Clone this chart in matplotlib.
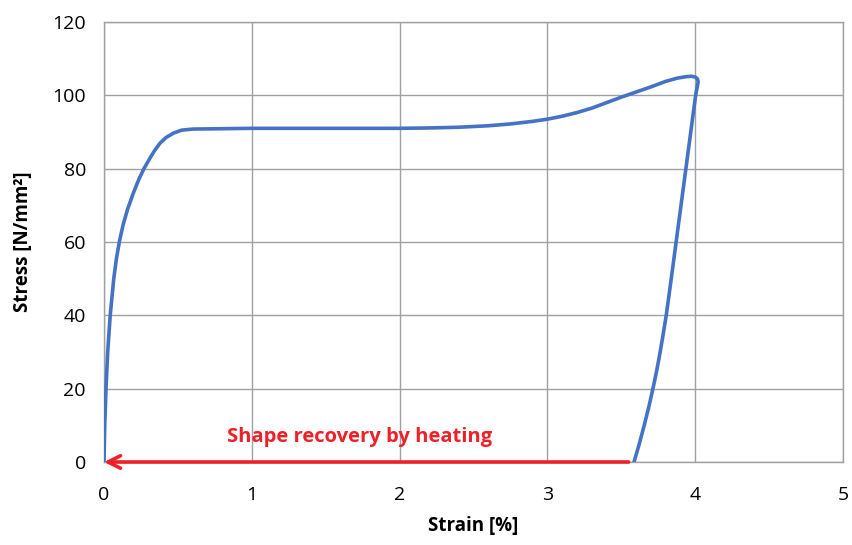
import numpy as np
import matplotlib.pyplot as plt

# Stress-strain loop (loading, unloading)
strain = [0.0, 0.005, 0.0135, 0.025, 0.042, 0.066, 0.084, 0.106, 0.13, 0.16, 0.2, 0.235, 0.27, 0.31, 0.345, 0.38, 0.42,
          0.47, 0.525, 0.6, 0.8, 1.0, 1.5, 2.0, 2.2, 2.4, 2.6, 2.75, 2.9, 3.0,
          3.1, 3.2, 3.3, 3.4, 3.5, 3.6, 3.7, 3.8, 3.88, 3.94, 3.975, 4.0, 4.015,
          4.02, 4.003, 3.97, 3.937, 3.904, 3.871, 3.838, 3.804, 3.784, 3.763, 3.740, 3.714, 3.686, 3.655, 3.622, 3.586]
stress = [0.0, 10.0, 20.0, 30.0, 40.0, 50.0, 55.5, 60.5, 64.8, 69.0, 73.5, 77.0, 80.0, 82.8, 85.1, 87.0, 88.5,
          89.7, 90.5, 90.8, 90.9, 91.0, 91.0, 91.0, 91.1, 91.3, 91.7, 92.2, 92.9, 93.5,
          94.3, 95.3, 96.5, 98.0, 99.5, 100.9, 102.3, 103.8, 104.7, 105.1, 105.2, 105.0, 104.5,
          103.7, 100.0, 90.0, 80.0, 70.0, 60.0, 50.0, 40.0, 35.0, 30.0, 25.0, 20.0, 15.0, 10.0, 5.0, 0.0]

arrow_start = 3.55
arrow_end = 0.0
recovery_label = "Shape recovery by heating"

plt.rcParams['font.family'] = ['Open Sans', 'DejaVu Sans']

fig = plt.figure(figsize=(8.53, 5.45), dpi=100)
ax = fig.add_axes([104 / 853, 83 / 545, 739 / 853, 440 / 545])

ax.plot(strain, stress, color='#4472C4', lw=2.6, solid_capstyle='round', solid_joinstyle='round', zorder=3)

ax.annotate('', xy=(arrow_end, 0), xytext=(arrow_start, 0),
            arrowprops=dict(arrowstyle='->,head_length=0.9,head_width=0.45', color='#EE2028', lw=2.6,
                            shrinkA=0, shrinkB=0), zorder=4)
ax.text(1.73, 6.8, recovery_label, color='#EE2028', fontsize=14.5, fontweight='bold', ha='center', va='center')

ax.set_xlim(0, 5)
ax.set_ylim(0, 120)
ax.set_xticks(np.arange(0, 6, 1))
ax.set_yticks(np.arange(0, 121, 20))
ax.grid(True, color='#A0A0A0', lw=1.0)
ax.set_axisbelow(True)
for s in ax.spines.values():
    s.set_color('#A0A0A0')
    s.set_linewidth(1.0)
ax.tick_params(length=0, labelsize=14, colors='black')
ax.tick_params(axis='x', pad=17)
ax.tick_params(axis='y', pad=13)

ax.set_xlabel('Strain [%]', fontsize=13.5, fontweight='bold', labelpad=9)
ax.set_ylabel('Stress [N/mm²]', fontsize=13.5, fontweight='bold', labelpad=14)

fig.savefig('out.png', dpi=100)
